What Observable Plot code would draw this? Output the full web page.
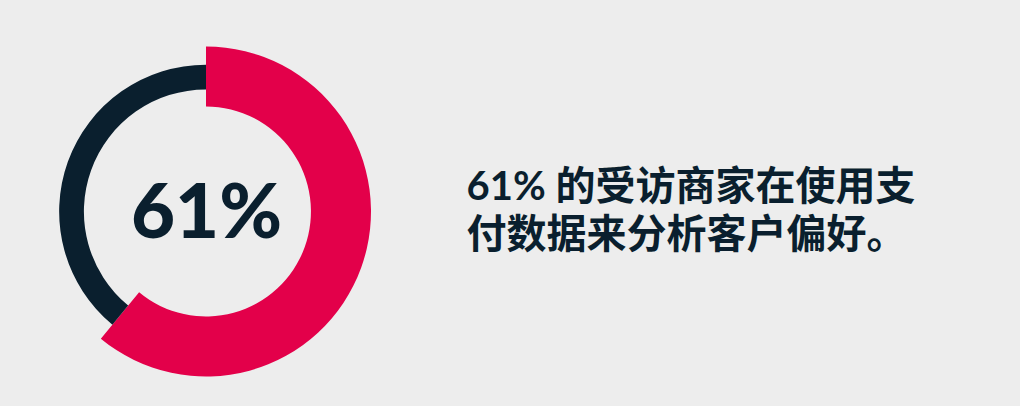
<!DOCTYPE html>
<html>
<head>
<meta charset="utf-8">
<script src="https://cdn.jsdelivr.net/npm/d3@7"></script>
<script src="https://cdn.jsdelivr.net/npm/@observablehq/plot@0.6"></script>
<style>
  html, body { margin: 0; padding: 0; background: #ededed; }
  #chart { width: 1020px; height: 406px; }
</style>
</head>
<body>
<div id="chart"></div>
<script>
// Data
const categories = ["使用支付数据", "未使用"];
const shares = [61, 39];
const centerLabel = "61%";
const statement = "61% 的受访商家在使用支\n付数据来分析客户偏好。";

const colors = {"使用支付数据": "#e3004a", "未使用": "#0a1f2e"};
// ring geometry in units of the outer radius
const ring = {"使用支付数据": [0.636, 1.0], "未使用": [0.74, 0.89]};

const rows = categories.map((c, i) => ({category: c, value: shares[i]}));

function donut(index, scales) {
  const cx = scales.x(0), cy = scales.y(0);
  const R = scales.x(1) - cx;
  const arcs = d3.pie().sort(null).value(d => d.value)(rows);
  const g = d3.create("svg:g").attr("transform", `translate(${cx},${cy})`);
  g.selectAll("path")
    .data(arcs)
    .join("path")
    .attr("fill", d => colors[d.data.category])
    .attr("d", d => d3.arc()
      .innerRadius(ring[d.data.category][0] * R)
      .outerRadius(ring[d.data.category][1] * R)(d));
  return g.node();
}

const chart = Plot.plot({
  width: 1020,
  height: 406,
  margin: 0,
  style: {background: "#ededed"},
  x: {domain: [-1, 1], range: [41, 371], axis: null},
  y: {domain: [-1, 1], range: [376.5, 46.5], axis: null},
  marks: [
    donut,
    Plot.text([centerLabel], {
      x: () => 0, y: () => 0, text: d => d,
      fontSize: 76, fontWeight: 900, fill: "#0a1f2e",
      fontFamily: "Lato, 'Noto Sans', sans-serif",
      dy: 2
    }),
    Plot.text([statement], {
      text: d => d,
      frameAnchor: "left",
      textAnchor: "start",
      dx: 466, dy: 5,
      lineHeight: 1.2,
      fontSize: 40, fontWeight: 700, fill: "#0a1f2e",
      fontFamily: "Lato, 'Noto Sans CJK SC', sans-serif"
    })
  ]
});
document.getElementById("chart").appendChild(chart);
</script>
</body>
</html>
